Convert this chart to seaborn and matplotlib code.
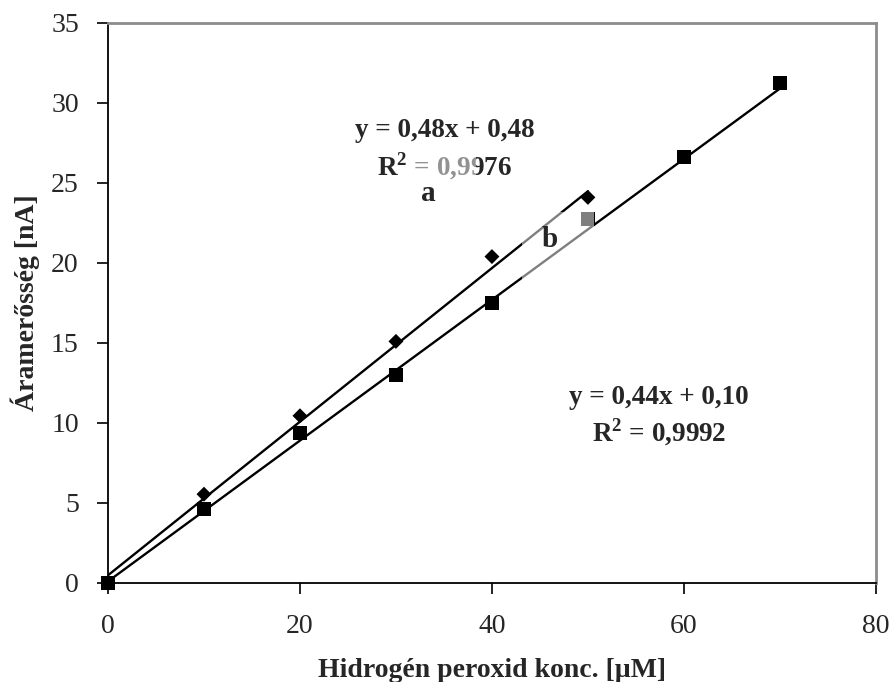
import numpy as np
import pandas as pd
import matplotlib
matplotlib.use("Agg")
import matplotlib.pyplot as plt
from matplotlib.patches import Rectangle
import seaborn as sns

# Data
conc_a = [0, 10, 20, 30, 40, 50]
current_a = [0.0, 5.55, 10.45, 15.1, 20.4, 24.1]
conc_b = [0, 10, 20, 30, 40, 50, 60, 70]
current_b = [0.0, 4.6, 9.4, 13.0, 17.5, 22.75, 26.6, 31.25]
slope_a, intercept_a, xmax_a = 0.48, 0.48, 50
slope_b, intercept_b, xmax_b = 0.44, 0.10, 70
x_ticks = [0, 20, 40, 60, 80]
y_ticks = [0, 5, 10, 15, 20, 25, 30, 35]

sns.set_theme(style="white")
plt.rcParams['font.family'] = ['Liberation Serif', 'DejaVu Serif']
plt.rcParams['mathtext.fontset'] = 'custom'
plt.rcParams['mathtext.bf'] = 'Liberation Serif:bold'
plt.rcParams['mathtext.rm'] = 'Liberation Serif'

fig = plt.figure(figsize=(8.91, 6.82), dpi=100)
ax = fig.add_axes([0.1212, 0.1452, 0.8618, 0.8211])

fit_a = pd.DataFrame({"x": [0, xmax_a]})
fit_a["y"] = slope_a * fit_a["x"] + intercept_a
fit_b = pd.DataFrame({"x": [0, xmax_b]})
fit_b["y"] = slope_b * fit_b["x"] + intercept_b

sns.lineplot(data=fit_a, x="x", y="y", ax=ax, color="black", linewidth=1.7)
sns.lineplot(data=fit_b, x="x", y="y", ax=ax, color="black", linewidth=1.7)

df_a = pd.DataFrame({"x": conc_a, "y": current_a})
df_b = pd.DataFrame({"x": conc_b, "y": current_b})
sns.scatterplot(data=df_b, x="x", y="y", ax=ax, marker="s", s=100, color="black",
                edgecolor="none", zorder=3, clip_on=False)
sns.scatterplot(data=df_a, x="x", y="y", ax=ax, marker="D", s=58, color="black",
                edgecolor="none", zorder=4, clip_on=False)

ax.set_xlim(0, 80)
ax.set_ylim(0, 35)
ax.set_xticks(x_ticks)
ax.set_yticks(y_ticks)
ax.tick_params(axis="both", labelsize=20, direction="out", length=8, width=1.2,
               color="black", left=True, bottom=True)
ax.tick_params(axis="x", pad=14)
ax.tick_params(axis="y", pad=13)
ax.margins(0)

for s in ["left", "bottom"]:
    ax.spines[s].set_color("black")
    ax.spines[s].set_linewidth(1.3)
for s in ["top", "right"]:
    ax.spines[s].set_color("#8c8c8c")
    ax.spines[s].set_linewidth(2.0)

ax.set_xlabel("Hidrogén peroxid konc. [µM]", fontsize=20, fontweight="bold", labelpad=14)
ax.set_ylabel("Áramerősség [nA]", fontsize=20, fontweight="bold", labelpad=8)

tk = dict(fontsize=19.5, fontweight="bold", ha="center", va="center", zorder=5)
ax.text(35.1, 28.3, "y = 0,48x + 0,48", **tk)
ax.text(35.1, 26.05, r"R$^{\mathbf{2}}$ = 0,9976", **tk)
ax.text(57.4, 11.6, "y = 0,44x + 0,10", **tk)
ax.text(57.4, 9.4, r"R$^{\mathbf{2}}$ = 0,9992", **tk)

# semi-transparent label boxes (as in the original Excel chart)
ax.add_patch(Rectangle((32.0, 23.8), 6.3, 2.95, facecolor="white", alpha=0.5,
                       edgecolor="none", zorder=6))
ax.add_patch(Rectangle((43.1, 18.9), 7.5, 4.3, facecolor="white", alpha=0.5,
                       edgecolor="none", zorder=6, clip_on=False))

ax.text(33.4, 24.35, "a", fontsize=21, fontweight="bold", ha="center", va="center", zorder=7)
ax.text(46.0, 21.44, "b", fontsize=21, fontweight="bold", ha="center", va="center", zorder=7)

fig.savefig("out.png", dpi=100)
